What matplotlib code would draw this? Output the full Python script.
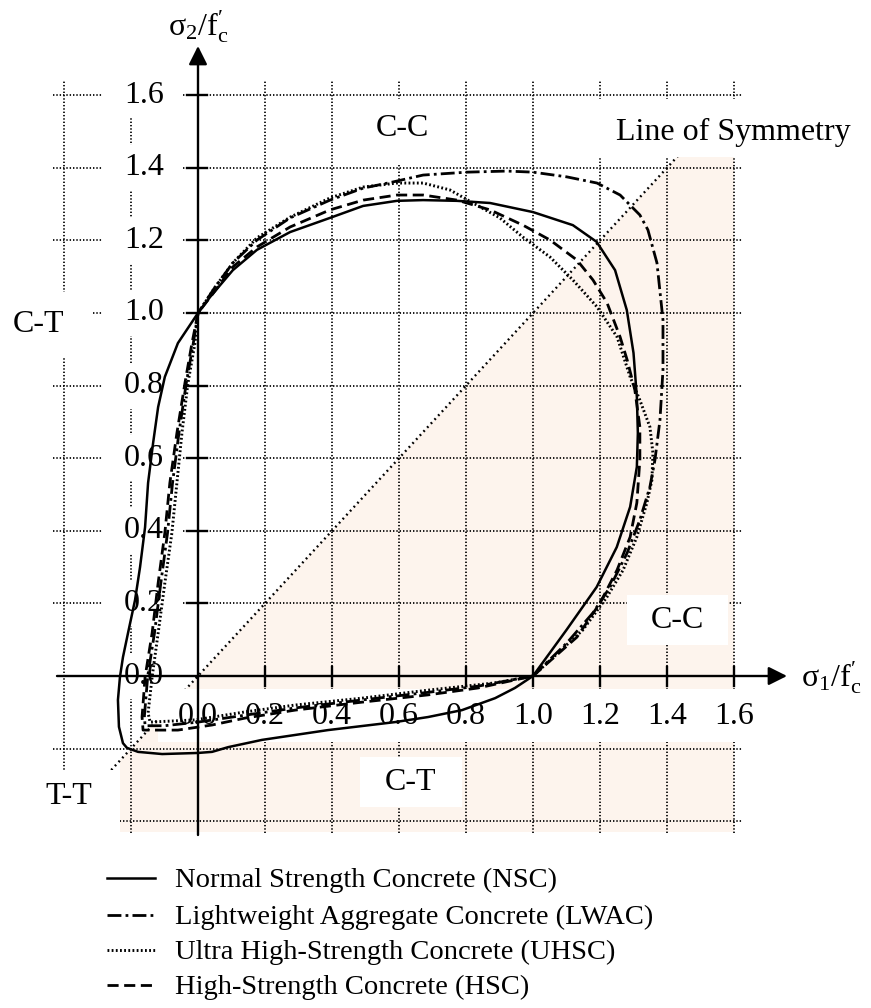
import matplotlib
matplotlib.use("Agg")
import matplotlib.pyplot as plt
from matplotlib.patches import Rectangle, Polygon
from matplotlib.lines import Line2D

plt.rcParams["font.family"] = ["Liberation Serif", "DejaVu Serif"]
plt.rcParams["mathtext.fontset"] = "custom"
plt.rcParams["mathtext.rm"] = "Liberation Serif"
plt.rcParams["mathtext.it"] = "Liberation Serif:italic"
plt.rcParams["lines.scale_dashes"] = False

# ---- failure envelopes (sigma1/f'c, sigma2/f'c), closed loops ----
nsc_x = [1.0, 1.10, 1.19, 1.25, 1.29, 1.31, 1.313, 1.31, 1.30, 1.28, 1.245, 1.19,
         1.119, 1.0, 0.872, 0.773, 0.672, 0.594, 0.493, 0.394, 0.275, 0.176, 0.104,
         0.036, 0.0, -0.06, -0.099, -0.119, -0.134, -0.149, -0.158, -0.173, -0.188,
         -0.209, -0.224, -0.233, -0.239, -0.236, -0.224, -0.212, -0.179, -0.107, 0.0,
         0.042, 0.09, 0.191, 0.388, 0.588, 0.687, 0.788, 0.887, 0.946, 1.0]
nsc_y = [0.0, 0.127, 0.245, 0.355, 0.466, 0.576, 0.669, 0.769, 0.890, 1.008, 1.118, 1.196,
         1.242, 1.278, 1.303, 1.309, 1.311, 1.309, 1.295, 1.262, 1.223, 1.174, 1.118,
         1.044, 1.0, 0.917, 0.824, 0.741, 0.642, 0.532, 0.410, 0.300, 0.209,
         0.118, 0.052, -0.003, -0.066, -0.140, -0.185, -0.198, -0.209, -0.215, -0.212,
         -0.209, -0.196, -0.176, -0.149, -0.127, -0.113, -0.094, -0.061, -0.033, 0.0]

lwac_x = [1.0, 1.101, 1.179, 1.230, 1.281, 1.319, 1.349, 1.364, 1.379, 1.388, 1.388, 1.370,
          1.343, 1.319, 1.260, 1.191, 1.101, 1.0, 0.922, 0.803, 0.672, 0.582, 0.493, 0.394,
          0.275, 0.176, 0.104, 0.05, 0.0, -0.014, -0.035, -0.057, -0.076, -0.091, -0.111,
          -0.130, -0.150, -0.160, -0.158, -0.10, 0.0, 0.14, 0.29, 0.49, 0.687, 0.836, 1.0]
lwac_y = [0.0, 0.091, 0.174, 0.245, 0.339, 0.430, 0.521, 0.595, 0.705, 0.843, 0.981, 1.138,
          1.229, 1.270, 1.325, 1.358, 1.375, 1.388, 1.391, 1.388, 1.380, 1.361, 1.344, 1.311,
          1.262, 1.201, 1.138, 1.07, 1.0, 0.917, 0.807, 0.669, 0.532, 0.394, 0.256,
          0.118, 0.0, -0.11, -0.137, -0.137, -0.127, -0.108, -0.088, -0.066, -0.045, -0.028, 0.0]

uhsc_x = [1.0, 1.149, 1.221, 1.269, 1.310, 1.340, 1.355, 1.358, 1.349, 1.319, 1.290, 1.251,
          1.191, 1.119, 1.051, 0.970, 0.901, 0.821, 0.752, 0.672, 0.594, 0.493, 0.394,
          0.275, 0.176, 0.104, 0.05, 0.0, -0.009, -0.03, -0.048, -0.063, -0.078, -0.099,
          -0.119, -0.137, -0.149, -0.143, -0.009, 0.14, 0.29, 0.49, 0.687, 0.887, 1.0]
uhsc_y = [0.0, 0.127, 0.218, 0.292, 0.383, 0.477, 0.540, 0.614, 0.686, 0.760, 0.824, 0.934,
          1.017, 1.091, 1.154, 1.209, 1.262, 1.303, 1.339, 1.358, 1.358, 1.347, 1.317,
          1.264, 1.207, 1.138, 1.07, 1.0, 0.917, 0.807, 0.669, 0.532, 0.394, 0.256,
          0.118, -0.003, -0.102, -0.127, -0.121, -0.099, -0.080, -0.061, -0.039, -0.019, 0.0]

hsc_x = [1.0, 1.131, 1.200, 1.251, 1.290, 1.310, 1.319, 1.319, 1.304, 1.281, 1.260, 1.221,
         1.179, 1.131, 1.051, 0.970, 0.872, 0.773, 0.672, 0.594, 0.493, 0.394, 0.275,
         0.176, 0.104, 0.05, 0.0, -0.018, -0.039, -0.063, -0.084, -0.099, -0.119, -0.137,
         -0.158, -0.167, -0.164, -0.06, 0.042, 0.14, 0.29, 0.49, 0.687, 0.836, 1.0]
hsc_y = [0.0, 0.107, 0.201, 0.292, 0.383, 0.477, 0.595, 0.686, 0.788, 0.871, 0.934, 1.028,
         1.091, 1.146, 1.201, 1.242, 1.284, 1.311, 1.325, 1.325, 1.311, 1.284, 1.237,
         1.182, 1.127, 1.06, 1.0, 0.917, 0.807, 0.669, 0.532, 0.394, 0.256, 0.118,
         -0.003, -0.113, -0.149, -0.149, -0.135, -0.116, -0.094, -0.072, -0.052, -0.033, 0.0]

series_labels = ["Normal Strength Concrete (NSC)",
                 "Lightweight Aggregate Concrete (LWAC)",
                 "Ultra High-Strength Concrete (UHSC)",
                 "High-Strength Concrete (HSC)"]

tick_values = [0.2, 0.4, 0.6, 0.8, 1.0, 1.2, 1.4, 1.6]
tick_labels = ["0.2", "0.4", "0.6", "0.8", "1.0", "1.2", "1.4", "1.6"]
grid_values = [-0.4, -0.2, 0.2, 0.4, 0.6, 0.8, 1.0, 1.2, 1.4, 1.6]
symmetry_ends = [-0.27, 1.435]

# ---- canvas: one axes filling the figure, data units on both axes ----
W, H = 871, 1008
X0, Y0, SX, SY = 198.0, 676.0, 335.0, 363.0   # origin and scale in pixels


def dx(px):
    return (px - X0) / SX


def dy(py):
    return (Y0 - py) / SY


fig = plt.figure(figsize=(W / 100, H / 100), dpi=100)
ax = fig.add_axes([0, 0, 1, 1])
ax.set_xlim(dx(0), dx(W))
ax.set_ylim(dy(H), dy(0))
ax.axis("off")

FS = 23
FS_LEG = 20.5

# shaded region below the line of symmetry
top = symmetry_ends[1]
left = dx(120)
bottom = dy(832)
shade = Polygon([(left, left), (top, top), (1.6, top), (1.6, bottom), (left, bottom)],
                closed=True, facecolor="#fdf4ed", edgecolor="none", zorder=1)
ax.add_patch(shade)

# dotted grid
grid_style = dict(color="black", lw=1.25, linestyle=(0, (1.0, 1.4)), zorder=2)
for v in grid_values:
    ax.plot([v, v], [dy(833), dy(80)], **grid_style)
    ax.plot([dx(53), dx(743)], [v, v], **grid_style)

# line of symmetry
ax.plot(symmetry_ends, symmetry_ends, color="black", lw=1.7,
        linestyle=(0, (1.3, 2.6)), zorder=2.5)


def white_box(x1, y1, x2, y2, z=3):
    ax.add_patch(Rectangle((dx(x1), dy(y2)), dx(x2) - dx(x1), dy(y1) - dy(y2),
                           facecolor="white", edgecolor="none", zorder=z))


# label backgrounds
white_box(158, 689, 770, 742)                    # x tick labels band
for v in [0.0] + tick_values:                    # y tick labels
    yc = Y0 - v * SY
    white_box(103, yc - 23, 182, yc + 23)
white_box(345, 99, 462, 165)                     # C-C (top)
white_box(590, 99, 865, 157)                     # Line of Symmetry
white_box(0, 292, 92, 358)                       # C-T (left)
white_box(18, 770, 120, 835)                     # T-T
white_box(627, 595, 728, 645)                    # C-C (right)
white_box(360, 757, 462, 807)                    # C-T (bottom)

# tick labels
for v, s in zip([0.0] + tick_values, ["0.0"] + tick_labels):
    ax.text(dx(144), v, s, fontsize=FS, ha="center", va="center", zorder=3.5)
    ax.text(v, dy(717), s, fontsize=FS, ha="center", va="center", zorder=3.5)

# region labels
ax.text(dx(402), dy(128), "C-C", fontsize=FS, ha="center", va="center", zorder=3.5)
ax.text(dx(733), dy(132), "Line of Symmetry", fontsize=FS, ha="center", va="center", zorder=3.5)
ax.text(dx(38), dy(325), "C-T", fontsize=FS, ha="center", va="center", zorder=3.5)
ax.text(dx(69), dy(797), "T-T", fontsize=FS, ha="center", va="center", zorder=3.5)
ax.text(dx(677), dy(620), "C-C", fontsize=FS, ha="center", va="center", zorder=3.5)
ax.text(dx(411), dy(782), "C-T", fontsize=FS, ha="center", va="center", zorder=3.5)

# envelopes
styles = [
    dict(color="black", lw=1.8, linestyle="-"),
    dict(color="black", lw=2.0, linestyle=(0, (10, 3, 2, 3))),
    dict(color="black", lw=2.1, linestyle=(0, (1.3, 1.7))),
    dict(color="black", lw=2.0, linestyle=(0, (8, 4))),
]
curves = [(nsc_x, nsc_y), (lwac_x, lwac_y), (uhsc_x, uhsc_y), (hsc_x, hsc_y)]
for (cx, cy), st in zip(curves, styles):
    ax.plot(cx, cy, zorder=5, solid_joinstyle="round", dash_joinstyle="round", **st)

# axes with arrows
ax.annotate("", xy=(dx(787), 0), xytext=(dx(57), 0),
            arrowprops=dict(arrowstyle="-|>", mutation_scale=28, lw=1.7, color="black",
                            shrinkA=0, shrinkB=0), zorder=6)
ax.annotate("", xy=(0, dy(46)), xytext=(0, dy(835)),
            arrowprops=dict(arrowstyle="-|>", mutation_scale=28, lw=1.7, color="black",
                            shrinkA=0, shrinkB=0), zorder=6)
for v in tick_values:
    ax.plot([dx(187), dx(207)], [v, v], color="black", lw=1.7, zorder=6)
    ax.plot([v, v], [dy(667), dy(686)], color="black", lw=1.7, zorder=6)

ax.text(dx(831), dy(678), r"$\mathrm{σ_1/f_c^{\prime}}$", fontsize=FS, ha="center",
        va="center", zorder=6)
ax.text(dx(198), dy(27), r"$\mathrm{σ_2/f_c^{\prime}}$", fontsize=FS, ha="center",
        va="center", zorder=6)

# legend
baselines = [887, 924, 959, 994]
for lab, st, b in zip(series_labels, styles, baselines):
    ax.add_line(Line2D([dx(107), dx(155)], [dy(b - 9), dy(b - 9)], **st))
    ax.text(dx(175), dy(b), lab, fontsize=FS_LEG, ha="left", va="baseline")

fig.savefig("out.png", dpi=100)
